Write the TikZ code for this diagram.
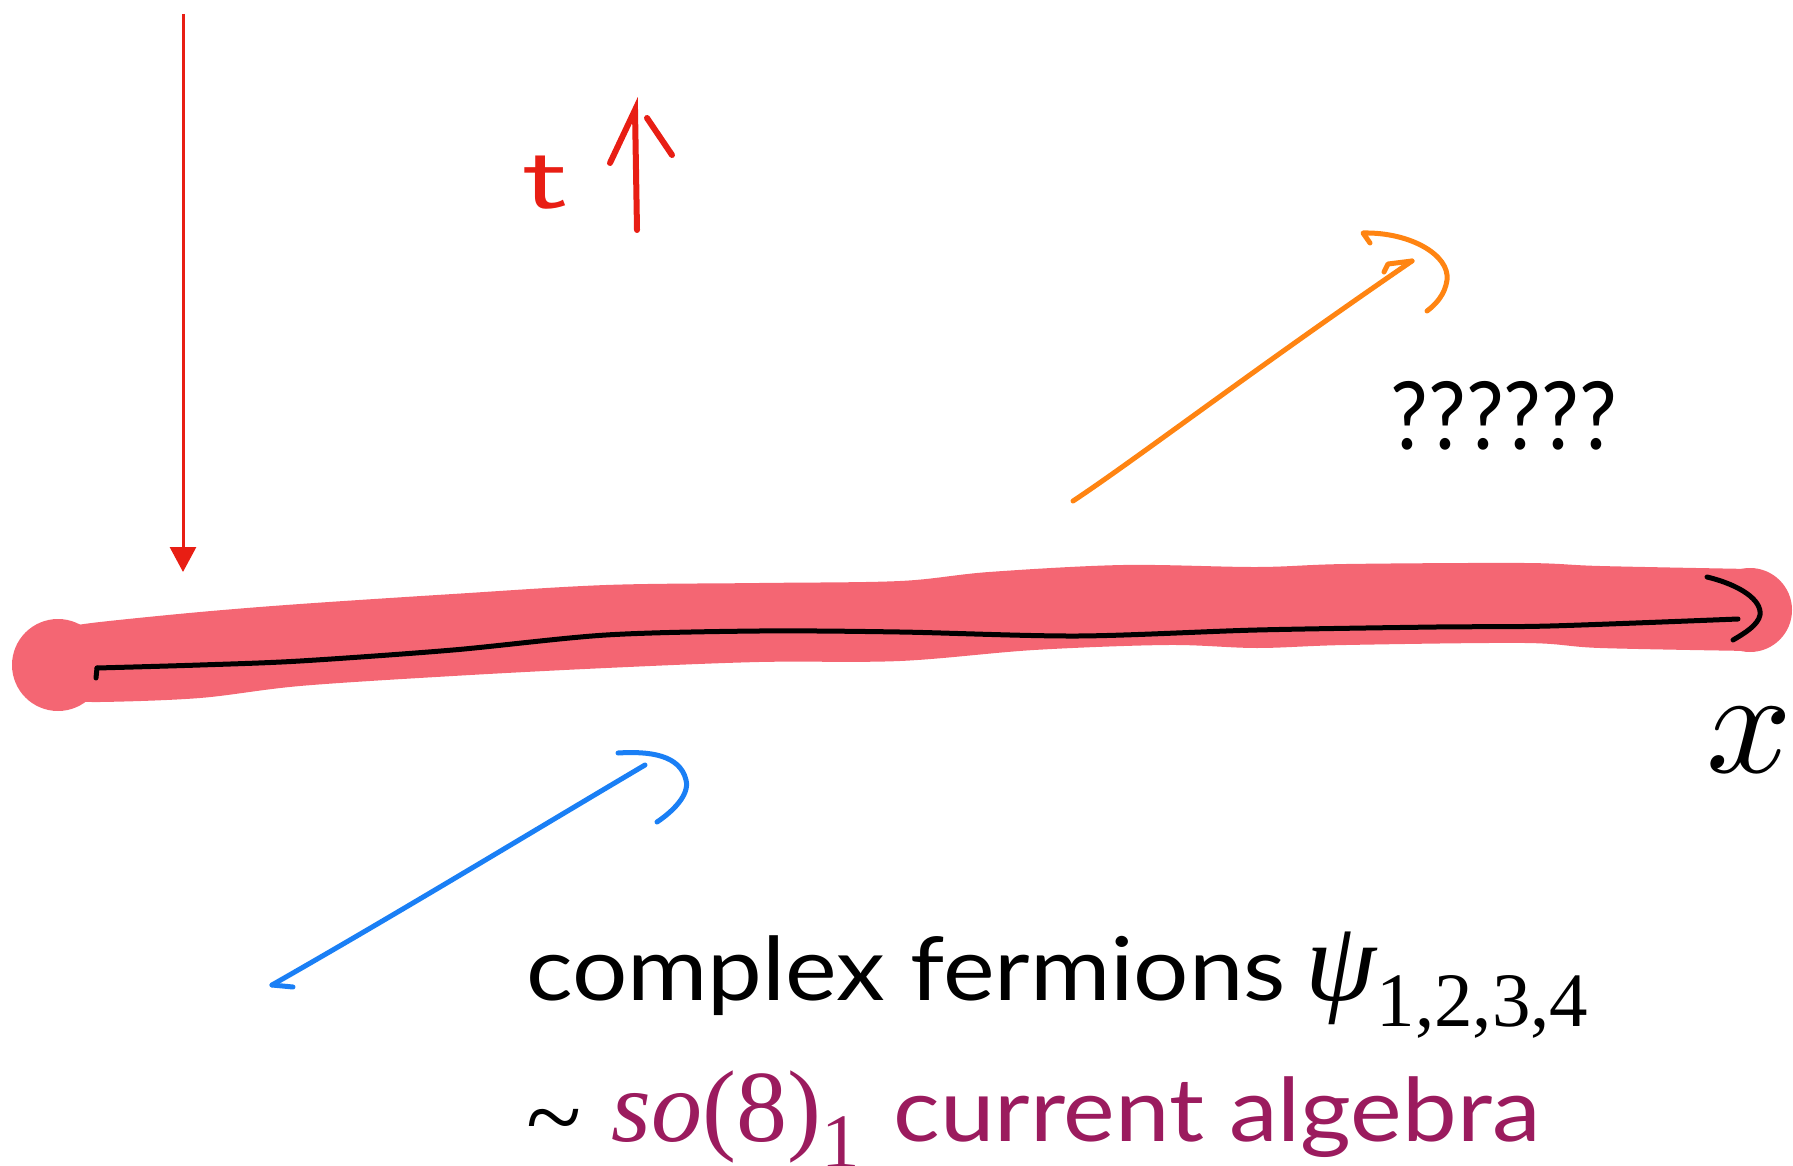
\documentclass[tikz,border=0pt]{standalone}
\usepackage{fontspec}
\setmainfont{Lato}
\newfontfamily\serfont{Liberation Serif}
\usetikzlibrary{arrows.meta}
\definecolor{bandpink}{RGB}{244,102,115}
\definecolor{tred}{RGB}{232,30,20}
\definecolor{orng}{RGB}{255,132,18}
\definecolor{blu}{RGB}{26,127,245}
\definecolor{plum}{RGB}{155,27,94}
\tikzset{
  stroke/.style={line width=5pt, line cap=round, line join=round},
  lbl/.style={inner sep=0pt, anchor=base west},
}
\newcommand{\bodyfont}{\fontsize{88}{100}\selectfont}
\newcommand{\mathfnt}{\serfont\fontsize{102}{110}\selectfont}
\newcommand{\psifnt}{\serfont\fontsize{114}{120}\selectfont}
\newcommand{\subfnt}{\serfont\fontsize{77}{85}\selectfont}
\begin{document}
\begin{tikzpicture}[x=1pt,y=-1pt]
\useasboundingbox (0,0) rectangle (1793,1166);
% pink band
\fill[bandpink] plot[smooth, tension=0.55] coordinates {(58,628) (100,622) (200,612) (300,604) (453,594) (606,585) (759,583) (900,581) (989,572) (1123,565) (1257,567) (1346,564) (1525,563) (1600,566) (1750,569)}
  -- plot[smooth, tension=0.55] coordinates {(1750,651) (1600,648) (1525,643) (1346,645) (1257,648) (1168,645) (1034,650) (900,661) (759,662) (606,668) (453,676) (300,686) (200,698) (100,702) (58,700)} -- cycle;
\fill[bandpink] (58,665) circle[radius=46pt];
\fill[bandpink] (1750,610) circle[radius=42pt];
% black x-axis
\coordinate (xs) at (97,668);
\coordinate (xe) at (1738,619);
\draw[black, stroke] (96,678) -- (xs);
\draw[black, stroke] plot[smooth, tension=0.5] coordinates {(xs) (200,665) (300,661) (453,650) (606,635) (759,631) (900,632) (1078,636) (1257,630) (1436,627) (1550,626) (xe)};
\draw[black, stroke] (1707,577) .. controls (1740,585) and (1762,600) .. (1760,615) .. controls (1758,625) and (1745,633) .. (1733,640);
\node[inner sep=0pt, anchor=south west] (xlab) at (1706,773) {\scalebox{15}{$x$}};
% red time arrow at left
\coordinate (ra) at (183,14);
\coordinate (rb) at (183,572);
\draw[tred, line width=3pt, -{Triangle[length=25pt,width=26pt]}] (ra) -- (rb);
% t arrow
\node[tred, lbl] (tlab) at (522,209) {\sffamily\fontsize{95}{100}\selectfont\scalebox{1.45}[1]{t}};
\coordinate (ta) at (637,230);
\coordinate (tb) at (635,110);
\draw[tred, line width=6pt, line cap=round] (ta) -- (tb) -- (610,163);
\draw[tred, line width=6pt, line cap=round] (647,118) -- (672,155);
% orange arrow
\coordinate (oa) at (1073,501);
\coordinate (ob) at (1412,261);
\draw[orng, stroke] (oa) .. controls (1135,460) and (1250,372) .. (ob);
\draw[orng, stroke] (1384,272) -- (1388,264) -- (ob);
\draw[orng, stroke] (1370,243) -- (1363,233) .. controls (1410,232) and (1450,255) .. (1447,280) .. controls (1445,295) and (1435,305) .. (1427,311);
% question marks
\node[lbl] (qq) at (1390,449) {\fontsize{94}{100}\selectfont\scalebox{0.9}[1]{??????}};
% blue arrow
\coordinate (ba) at (272,985);
\coordinate (bb) at (645,765);
\draw[blu, stroke] (293,987) -- (ba);
\draw[blu, stroke] (ba) .. controls (400,912) and (530,833) .. (bb);
\draw[blu, stroke] (618,753) .. controls (650,751) and (680,755) .. (686,780) .. controls (690,795) and (672,812) .. (657,822);
% texts
\node[lbl] (l1) at (526,1000) {\scalebox{1.11}[1]{\bodyfont complex fermions}\hspace{20pt}{\psifnt\itshape ψ}\raisebox{-26pt}{\subfnt 1,2,3,4}};
\node[lbl] (l2) at (526,1141) {\raisebox{-10pt}{\mathfnt\textasciitilde}\hspace{30pt}\color{plum}{\mathfnt{\itshape so}(8)}\raisebox{-26pt}{\subfnt 1}\hspace{34pt}\scalebox{1.11}[1]{\bodyfont current algebra}};
\end{tikzpicture}
\end{document}
